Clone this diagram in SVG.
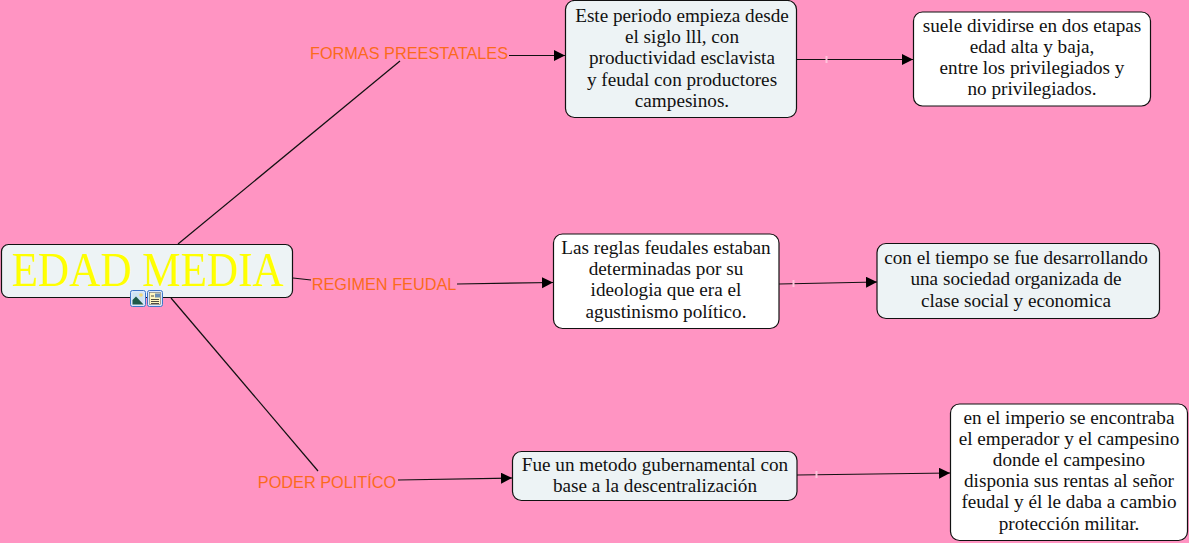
<svg xmlns="http://www.w3.org/2000/svg" width="1189" height="543" viewBox="0 0 1189 543">
<style>
.n{stroke:#111;stroke-width:1.2}
.w{fill:#fff}.g{fill:#edf3f5}
.t{font-family:"Liberation Serif",serif;font-size:19.2px;fill:#111;text-anchor:middle}
.l{font-family:"Liberation Sans",sans-serif;font-size:16.300px;fill:#fb6a1c;text-anchor:middle}
.c{fill:none;stroke:#111;stroke-width:1.2}
.a{marker-end:url(#ah)}
.k{stroke:#ffc4dc;stroke-width:2;fill:none}
</style>
<defs>
<marker id="ah" markerUnits="userSpaceOnUse" markerWidth="12" markerHeight="12" refX="11" refY="5.500" orient="auto"><path d="M0 0L11 5.500L0 11Z" fill="#000"/></marker>
</defs>
<rect width="1189" height="543" fill="#ff94c2"/>
<g id="connectors">
<path class="c" d="M178 244L400 61"/>
<path class="c" d="M171 298L318 471"/>
<path class="c" d="M293 278L311 280"/>
<path class="c a" d="M509 55.500L565 55.500"/>
<path class="c a" d="M457 284L553 282.500"/>
<path class="c a" d="M398 480L512 478"/>
<path class="c a" d="M796 59.500L913 59.500"/>
<path class="c a" d="M779 284L877 282"/>
<path class="c a" d="M797 475L950 473"/>
<path class="k" d="M826.500 56V63M793.500 280V287M816.500 471V478"/>
</g>
<g id="n-edad">
<rect class="n g" x="1.500" y="244.500" width="291" height="53" rx="7"/>
<text x="12" y="285.500" font-family="Liberation Serif, serif" font-size="49" fill="#ffff00" textLength="272" lengthAdjust="spacingAndGlyphs">EDAD MEDIA</text>
<g id="icons">
<rect x="130.500" y="290.500" width="15" height="16" rx="2" fill="#dbe9fb" stroke="#3f76c9"/>
<rect x="132.500" y="292.500" width="11" height="12" fill="#cfe3f2"/>
<circle cx="141" cy="295" r="1.800" fill="#f2d977"/>
<path d="M132.500 304.500V300L136 296.500L143.500 304.500Z" fill="#1f5a48"/>
<rect x="147.500" y="290.500" width="15" height="16" rx="2" fill="#dbe9fb" stroke="#3f76c9"/>
<rect x="149.500" y="292.500" width="11" height="12" fill="#fdf6c0" stroke="#555" stroke-width=".5"/>
<path d="M151 299.500H159M151 301.500H159M151 303.500H159M151 296H154" stroke="#222" stroke-width=".8" fill="none"/>
<rect x="155" y="293.500" width="5" height="4" fill="#6a8fb5"/>
</g>
</g>
<g id="n-formas"><text class="l" x="409" y="59">FORMAS PREESTATALES</text></g>
<g id="n-regimen"><text class="l" x="384" y="290">REGIMEN FEUDAL</text></g>
<g id="n-poder"><text class="l" x="327" y="488">PODER POLITÍCO</text></g>
<g id="n-periodo">
<rect class="n g" x="565.500" y="0.500" width="231" height="117" rx="9"/>
<text class="t"><tspan x="682" y="21.500">Este periodo empieza desde</tspan><tspan x="682" y="42.500">el siglo lll, con</tspan><tspan x="682" y="64">productividad esclavista</tspan><tspan x="682" y="85.500">y feudal con productores</tspan><tspan x="682" y="106.500">campesinos.</tspan></text>
</g>
<g id="n-etapas">
<rect class="n w" x="913.500" y="12" width="237" height="94" rx="9"/>
<text class="t"><tspan x="1032" y="32">suele dividirse en dos etapas</tspan><tspan x="1032" y="53">edad alta y baja,</tspan><tspan x="1032" y="74">entre los privilegiados y</tspan><tspan x="1032" y="95">no privilegiados.</tspan></text>
</g>
<g id="n-reglas">
<rect class="n w" x="553.500" y="234" width="225.500" height="94.500" rx="9"/>
<text class="t"><tspan x="666" y="254">Las reglas feudales estaban</tspan><tspan x="666" y="275">determinadas por su</tspan><tspan x="666" y="296">ideologia que era el</tspan><tspan x="666" y="318">agustinismo político.</tspan></text>
</g>
<g id="n-tiempo">
<rect class="n g" x="877" y="243.500" width="282.500" height="75" rx="9"/>
<text class="t"><tspan x="1016" y="264">con el tiempo se fue desarrollando</tspan><tspan x="1016" y="285">una sociedad organizada de</tspan><tspan x="1016" y="307">clase social y economica</tspan></text>
</g>
<g id="n-fue">
<rect class="n g" x="512.500" y="451.500" width="284.500" height="49" rx="9"/>
<text class="t"><tspan x="655" y="471">Fue un metodo gubernamental con</tspan><tspan x="655" y="492">base a la descentralización</tspan></text>
</g>
<g id="n-imperio">
<rect class="n w" x="950.500" y="404" width="237" height="136.500" rx="9"/>
<text class="t"><tspan x="1069" y="424">en el imperio se encontraba</tspan><tspan x="1069" y="445">el emperador y el campesino</tspan><tspan x="1069" y="466">donde el campesino</tspan><tspan x="1069" y="487">disponia sus rentas al señor</tspan><tspan x="1069" y="508">feudal y él le daba a cambio</tspan><tspan x="1069" y="530">protección militar.</tspan></text>
</g>
</svg>
